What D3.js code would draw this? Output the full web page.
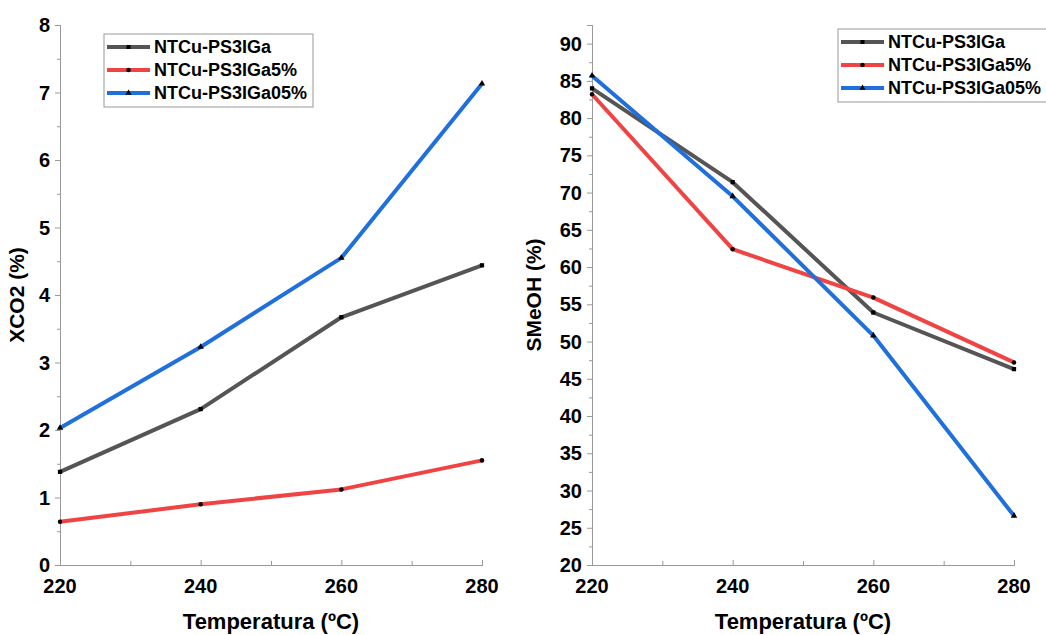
<!DOCTYPE html>
<html>
<head>
<meta charset="utf-8">
<script src="https://cdn.jsdelivr.net/npm/d3@7"></script>
<style>
  body { margin: 0; background: #fff; }
  text { font-family: "Liberation Sans", Arial, sans-serif; font-weight: bold; fill: #000; }
</style>
</head>
<body>
<div id="chart"></div>
<script>
// data
const temps = [220, 240, 260, 280];
const seriesNames = ["NTCu-PS3IGa", "NTCu-PS3IGa5%", "NTCu-PS3IGa05%"];
const xco2Ga = [1.38, 2.31, 3.67, 4.44];
const xco2Ga5 = [0.64, 0.90, 1.12, 1.55];
const xco2Ga05 = [2.03, 3.23, 4.55, 7.13];
const smeohGa = [84.0, 71.4, 53.9, 46.3];
const smeohGa5 = [83.2, 62.4, 55.9, 47.2];
const smeohGa05 = [85.7, 69.5, 50.8, 26.6];
const xTicks = [220, 240, 260, 280];
const leftTicks = [0, 1, 2, 3, 4, 5, 6, 7, 8];
const rightTicks = [20, 25, 30, 35, 40, 45, 50, 55, 60, 65, 70, 75, 80, 85, 90];

const colors = ["#555555", "#f04444", "#1f6fdc"];
const markers = [d3.symbolSquare, d3.symbolCircle, d3.symbolTriangle];

const W = 1046, H = 635;
const svg = d3.select("#chart").append("svg")
  .attr("width", W).attr("height", H);

function panel(opt) {
  const x = d3.scaleLinear().domain([220, 280]).range([opt.x0, opt.x1]);
  const y = d3.scaleLinear().domain(opt.yDomain).range([565, 25]);
  const g = svg.append("g");

  // axes
  g.append("g").attr("transform", "translate(0,565)")
    .call(d3.axisBottom(x).tickValues(xTicks).tickSize(-5).tickFormat(""));
  g.append("g").attr("transform", "translate(0,565)")
    .call(d3.axisBottom(x).tickValues([230, 250, 270]).tickSize(-4).tickFormat(""));
  g.append("g").attr("transform", "translate(" + opt.x0 + ",0)")
    .call(d3.axisLeft(y).tickValues(opt.yTicks).tickSize(5).tickFormat(""));
  g.append("g").attr("transform", "translate(" + opt.x0 + ",0)")
    .call(d3.axisLeft(y).tickValues(opt.yMinor).tickSize(3).tickFormat(""));
  g.selectAll(".domain, .tick line").attr("stroke", "#999").attr("stroke-width", 1);

  // tick labels
  g.selectAll(".xl").data(xTicks).enter().append("text")
    .attr("x", d => x(d)).attr("y", 593)
    .attr("text-anchor", "middle").style("font-size", "20px")
    .text(d => d);
  g.selectAll(".yl").data(opt.yTicks).enter().append("text")
    .attr("x", opt.x0 - 10).attr("y", d => y(d) + 7)
    .attr("text-anchor", "end").style("font-size", "20px")
    .text(d => d);

  // titles
  g.append("text").attr("x", (opt.x0 + opt.x1) / 2).attr("y", 629)
    .attr("text-anchor", "middle").style("font-size", "22px")
    .text("Temperatura (ºC)");
  g.append("text")
    .attr("transform", "translate(" + opt.titleX + ",295) rotate(-90)")
    .attr("text-anchor", "middle").style("font-size", "21px")
    .text(opt.yTitle);

  const line = d3.line().x((d, i) => x(temps[i])).y(d => y(d));
  opt.series.forEach((s, k) => {
    g.append("path").datum(s).attr("d", line)
      .attr("fill", "none").attr("stroke", colors[k]).attr("stroke-width", 4)
      .attr("stroke-linejoin", "round");
    g.selectAll(".m" + k).data(s).enter().append("path")
      .attr("transform", (d, i) => "translate(" + x(temps[i]) + "," + y(d) + ")")
      .attr("d", d3.symbol().type(markers[k]).size(k === 1 ? 16 : 18))
      .attr("fill", "#000");
  });

  // legend
  const lg = g.append("g").attr("transform", "translate(" + opt.lx + "," + opt.ly + ")");
  lg.append("rect").attr("width", opt.lw).attr("height", 73)
    .attr("fill", "#fff").attr("stroke", "#999").attr("stroke-width", 1);
  seriesNames.forEach((n, k) => {
    const yy = 13 + k * 23;
    lg.append("line").attr("x1", 3).attr("x2", 46).attr("y1", yy).attr("y2", yy)
      .attr("stroke", colors[k]).attr("stroke-width", 4);
    lg.append("path").attr("transform", "translate(24.5," + yy + ")")
      .attr("d", d3.symbol().type(markers[k]).size(16)).attr("fill", "#000");
    lg.append("text").attr("x", 50).attr("y", yy + 6)
      .style("font-size", "18px").text(n);
  });
}

panel({
  x0: 60, x1: 482, yDomain: [0, 8], yTicks: leftTicks,
  yMinor: d3.range(0.5, 8, 1), titleX: 24, yTitle: "XCO2 (%)",
  series: [xco2Ga, xco2Ga5, xco2Ga05], lx: 104, ly: 34, lw: 209
});
panel({
  x0: 592, x1: 1014, yDomain: [20, 92.5], yTicks: rightTicks,
  yMinor: d3.range(22.5, 93, 5), titleX: 541, yTitle: "SMeOH (%)",
  series: [smeohGa, smeohGa5, smeohGa05], lx: 838, ly: 29, lw: 210
});
</script>
</body>
</html>
